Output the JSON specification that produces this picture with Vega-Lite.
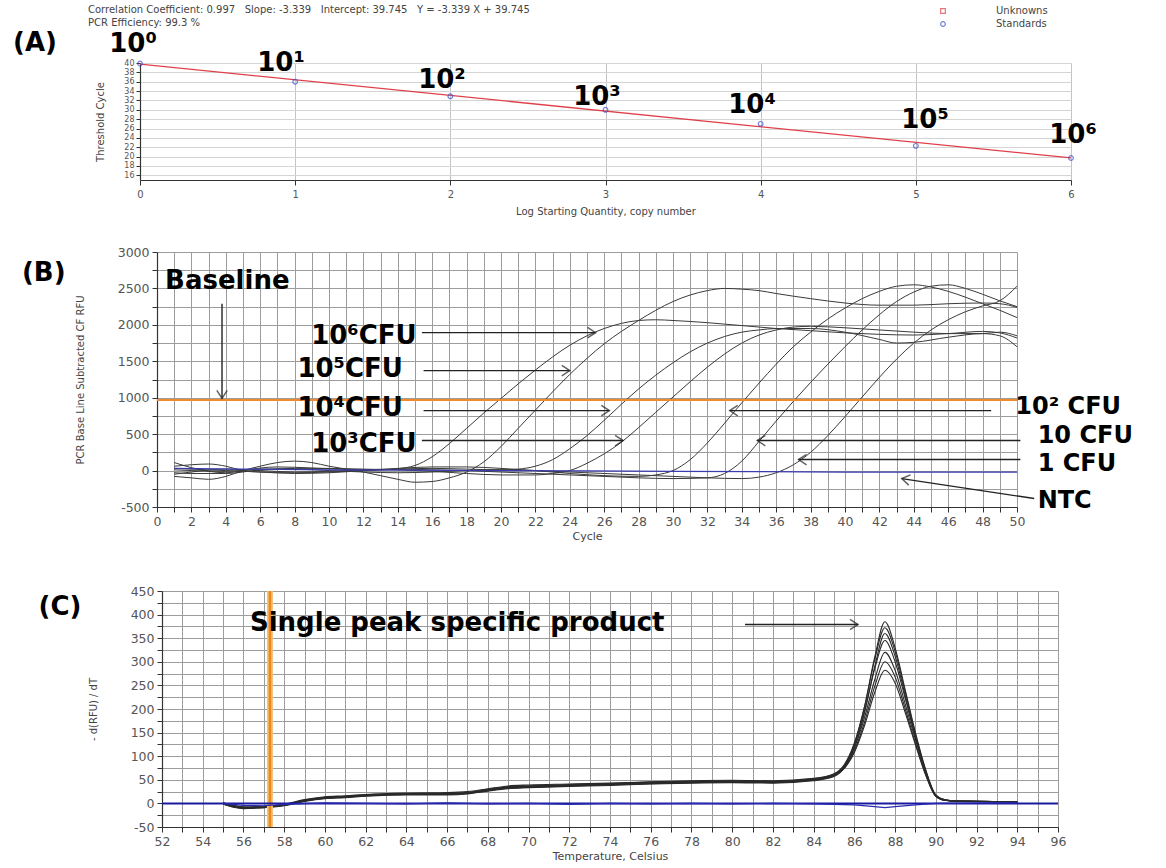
{
"$schema": "https://vega.github.io/schema/vega-lite/v6.json",
"width": 1166, "height": 868,
"autosize": {"type": "none"},
"padding": 0,
"background": "#ffffff",
"config": {
  "view": {"stroke": null},
  "font": "DejaVu Sans",
  "axis": {"labelFont": "DejaVu Sans", "titleFont": "DejaVu Sans", "labelColor": "#555555", "titleColor": "#444444", "titleFontWeight": "normal", "domainColor": "#333333", "tickColor": "#333333", "labelOverlap": false, "labelFlush": false, "labelBound": false, "domainWidth": 1.2}
},
"datasets": {
  "fitA": [{"log": 0, "ct": 39.745}, {"log": 6, "ct": 19.711}],
  "stdA": [{"log": 0, "ct": 39.9, "type": "Standards"}, {"log": 1, "ct": 36.0, "type": "Standards"}, {"log": 2, "ct": 32.9, "type": "Standards"}, {"log": 3, "ct": 30.0, "type": "Standards"}, {"log": 4, "ct": 27.0, "type": "Standards"}, {"log": 5, "ct": 22.3, "type": "Standards"}, {"log": 6, "ct": 19.7, "type": "Standards"}],
  "labelsA": [{"log": -0.677, "ct": 44.27, "t": "(A)"}, {"log": -0.045, "ct": 44.06, "t": "10⁰"}, {"log": 0.909, "ct": 40.0, "t": "10¹"}, {"log": 1.946, "ct": 36.37, "t": "10²"}, {"log": 2.945, "ct": 32.74, "t": "10³"}, {"log": 3.944, "ct": 31.03, "t": "10⁴"}, {"log": 5.059, "ct": 27.82, "t": "10⁵"}, {"log": 6.013, "ct": 24.62, "t": "10⁶"}],
  "headerA": [{"log": -0.335, "ct": 51.32, "t": "Correlation Coefficient: 0.997\u00a0\u00a0 Slope: -3.339\u00a0\u00a0 Intercept: 39.745\u00a0\u00a0 Y = -3.339 X + 39.745"}, {"log": -0.335, "ct": 48.55, "t": "PCR Efficiency: 99.3 %"}],
  "curvesB": [
    {"s":"1e6","c":1,"v":110},{"s":"1e6","c":2,"v":40},{"s":"1e6","c":3,"v":-10},{"s":"1e6","c":4,"v":-30},{"s":"1e6","c":5,"v":0},{"s":"1e6","c":6,"v":35},{"s":"1e6","c":7,"v":50},{"s":"1e6","c":8,"v":45},{"s":"1e6","c":10,"v":25},{"s":"1e6","c":12,"v":10},{"s":"1e6","c":13,"v":10},{"s":"1e6","c":14,"v":25},{"s":"1e6","c":15,"v":70},{"s":"1e6","c":16,"v":190},{"s":"1e6","c":17,"v":370},{"s":"1e6","c":18,"v":580},{"s":"1e6","c":19,"v":790},{"s":"1e6","c":20,"v":990},{"s":"1e6","c":21,"v":1190},{"s":"1e6","c":22,"v":1380},{"s":"1e6","c":23,"v":1560},{"s":"1e6","c":24,"v":1720},{"s":"1e6","c":25,"v":1850},{"s":"1e6","c":26,"v":1950},{"s":"1e6","c":27,"v":2020},{"s":"1e6","c":28,"v":2060},{"s":"1e6","c":29,"v":2070},{"s":"1e6","c":30,"v":2060},{"s":"1e6","c":32,"v":2030},{"s":"1e6","c":34,"v":1990},{"s":"1e6","c":36,"v":1950},{"s":"1e6","c":38,"v":1920},{"s":"1e6","c":40,"v":1890},{"s":"1e6","c":42,"v":1870},{"s":"1e6","c":44,"v":1860},{"s":"1e6","c":46,"v":1880},{"s":"1e6","c":48,"v":1910},{"s":"1e6","c":49,"v":1890},{"s":"1e6","c":50,"v":1820},
    {"s":"1e5","c":1,"v":-80},{"s":"1e5","c":2,"v":-100},{"s":"1e5","c":3,"v":-120},{"s":"1e5","c":4,"v":-80},{"s":"1e5","c":5,"v":0},{"s":"1e5","c":6,"v":60},{"s":"1e5","c":7,"v":110},{"s":"1e5","c":8,"v":130},{"s":"1e5","c":9,"v":110},{"s":"1e5","c":10,"v":60},{"s":"1e5","c":11,"v":20},{"s":"1e5","c":12,"v":-20},{"s":"1e5","c":13,"v":-70},{"s":"1e5","c":14,"v":-120},{"s":"1e5","c":15,"v":-160},{"s":"1e5","c":16,"v":-150},{"s":"1e5","c":17,"v":-100},{"s":"1e5","c":18,"v":-20},{"s":"1e5","c":19,"v":120},{"s":"1e5","c":20,"v":330},{"s":"1e5","c":21,"v":580},{"s":"1e5","c":22,"v":830},{"s":"1e5","c":23,"v":1080},{"s":"1e5","c":24,"v":1320},{"s":"1e5","c":25,"v":1540},{"s":"1e5","c":26,"v":1740},{"s":"1e5","c":27,"v":1910},{"s":"1e5","c":28,"v":2060},{"s":"1e5","c":29,"v":2200},{"s":"1e5","c":30,"v":2320},{"s":"1e5","c":31,"v":2410},{"s":"1e5","c":32,"v":2470},{"s":"1e5","c":33,"v":2500},{"s":"1e5","c":34,"v":2490},{"s":"1e5","c":35,"v":2470},{"s":"1e5","c":36,"v":2430},{"s":"1e5","c":38,"v":2360},{"s":"1e5","c":40,"v":2300},{"s":"1e5","c":42,"v":2270},{"s":"1e5","c":44,"v":2270},{"s":"1e5","c":46,"v":2290},{"s":"1e5","c":48,"v":2300},{"s":"1e5","c":49,"v":2290},{"s":"1e5","c":50,"v":2240},
    {"s":"1e4","c":1,"v":60},{"s":"1e4","c":2,"v":80},{"s":"1e4","c":3,"v":90},{"s":"1e4","c":4,"v":60},{"s":"1e4","c":5,"v":0},{"s":"1e4","c":6,"v":-20},{"s":"1e4","c":8,"v":-30},{"s":"1e4","c":10,"v":-20},{"s":"1e4","c":12,"v":0},{"s":"1e4","c":14,"v":20},{"s":"1e4","c":16,"v":30},{"s":"1e4","c":18,"v":20},{"s":"1e4","c":20,"v":10},{"s":"1e4","c":21,"v":20},{"s":"1e4","c":22,"v":60},{"s":"1e4","c":23,"v":150},{"s":"1e4","c":24,"v":300},{"s":"1e4","c":25,"v":480},{"s":"1e4","c":26,"v":690},{"s":"1e4","c":27,"v":910},{"s":"1e4","c":28,"v":1120},{"s":"1e4","c":29,"v":1310},{"s":"1e4","c":30,"v":1480},{"s":"1e4","c":31,"v":1630},{"s":"1e4","c":32,"v":1750},{"s":"1e4","c":33,"v":1840},{"s":"1e4","c":34,"v":1900},{"s":"1e4","c":35,"v":1930},{"s":"1e4","c":36,"v":1950},{"s":"1e4","c":38,"v":1950},{"s":"1e4","c":40,"v":1900},{"s":"1e4","c":42,"v":1800},{"s":"1e4","c":43,"v":1750},{"s":"1e4","c":44,"v":1760},{"s":"1e4","c":46,"v":1830},{"s":"1e4","c":48,"v":1880},{"s":"1e4","c":49,"v":1850},{"s":"1e4","c":50,"v":1700},
    {"s":"1e3","c":1,"v":-30},{"s":"1e3","c":2,"v":-40},{"s":"1e3","c":4,"v":-40},{"s":"1e3","c":6,"v":10},{"s":"1e3","c":8,"v":30},{"s":"1e3","c":10,"v":30},{"s":"1e3","c":12,"v":20},{"s":"1e3","c":14,"v":10},{"s":"1e3","c":16,"v":-10},{"s":"1e3","c":18,"v":-40},{"s":"1e3","c":20,"v":-60},{"s":"1e3","c":22,"v":-60},{"s":"1e3","c":23,"v":-40},{"s":"1e3","c":24,"v":0},{"s":"1e3","c":25,"v":100},{"s":"1e3","c":26,"v":230},{"s":"1e3","c":27,"v":390},{"s":"1e3","c":28,"v":590},{"s":"1e3","c":29,"v":800},{"s":"1e3","c":30,"v":1010},{"s":"1e3","c":31,"v":1220},{"s":"1e3","c":32,"v":1420},{"s":"1e3","c":33,"v":1600},{"s":"1e3","c":34,"v":1750},{"s":"1e3","c":35,"v":1860},{"s":"1e3","c":36,"v":1930},{"s":"1e3","c":37,"v":1970},{"s":"1e3","c":38,"v":1980},{"s":"1e3","c":40,"v":1960},{"s":"1e3","c":42,"v":1930},{"s":"1e3","c":44,"v":1900},{"s":"1e3","c":46,"v":1880},{"s":"1e3","c":48,"v":1880},{"s":"1e3","c":49,"v":1900},{"s":"1e3","c":50,"v":1850},
    {"s":"1e2","c":1,"v":30},{"s":"1e2","c":2,"v":20},{"s":"1e2","c":4,"v":0},{"s":"1e2","c":6,"v":-20},{"s":"1e2","c":8,"v":-40},{"s":"1e2","c":10,"v":-30},{"s":"1e2","c":12,"v":0},{"s":"1e2","c":14,"v":30},{"s":"1e2","c":16,"v":50},{"s":"1e2","c":18,"v":50},{"s":"1e2","c":20,"v":30},{"s":"1e2","c":22,"v":0},{"s":"1e2","c":24,"v":-40},{"s":"1e2","c":26,"v":-70},{"s":"1e2","c":28,"v":-80},{"s":"1e2","c":29,"v":-60},{"s":"1e2","c":30,"v":0},{"s":"1e2","c":31,"v":150},{"s":"1e2","c":32,"v":380},{"s":"1e2","c":33,"v":650},{"s":"1e2","c":34,"v":930},{"s":"1e2","c":35,"v":1200},{"s":"1e2","c":36,"v":1460},{"s":"1e2","c":37,"v":1700},{"s":"1e2","c":38,"v":1900},{"s":"1e2","c":39,"v":2080},{"s":"1e2","c":40,"v":2230},{"s":"1e2","c":41,"v":2360},{"s":"1e2","c":42,"v":2460},{"s":"1e2","c":43,"v":2530},{"s":"1e2","c":44,"v":2550},{"s":"1e2","c":45,"v":2520},{"s":"1e2","c":46,"v":2460},{"s":"1e2","c":47,"v":2380},{"s":"1e2","c":48,"v":2290},{"s":"1e2","c":49,"v":2200},{"s":"1e2","c":50,"v":2100},
    {"s":"1e1","c":1,"v":-50},{"s":"1e1","c":2,"v":-20},{"s":"1e1","c":4,"v":20},{"s":"1e1","c":6,"v":0},{"s":"1e1","c":8,"v":-20},{"s":"1e1","c":10,"v":-10},{"s":"1e1","c":12,"v":10},{"s":"1e1","c":14,"v":20},{"s":"1e1","c":16,"v":10},{"s":"1e1","c":18,"v":0},{"s":"1e1","c":20,"v":-20},{"s":"1e1","c":22,"v":-40},{"s":"1e1","c":24,"v":-60},{"s":"1e1","c":26,"v":-80},{"s":"1e1","c":28,"v":-100},{"s":"1e1","c":30,"v":-110},{"s":"1e1","c":32,"v":-100},{"s":"1e1","c":33,"v":-40},{"s":"1e1","c":34,"v":130},{"s":"1e1","c":35,"v":400},{"s":"1e1","c":36,"v":680},{"s":"1e1","c":37,"v":950},{"s":"1e1","c":38,"v":1210},{"s":"1e1","c":39,"v":1460},{"s":"1e1","c":40,"v":1700},{"s":"1e1","c":41,"v":1930},{"s":"1e1","c":42,"v":2140},{"s":"1e1","c":43,"v":2320},{"s":"1e1","c":44,"v":2450},{"s":"1e1","c":45,"v":2530},{"s":"1e1","c":46,"v":2550},{"s":"1e1","c":47,"v":2500},{"s":"1e1","c":48,"v":2420},{"s":"1e1","c":49,"v":2330},{"s":"1e1","c":50,"v":2250},
    {"s":"1e0","c":1,"v":10},{"s":"1e0","c":2,"v":0},{"s":"1e0","c":4,"v":-10},{"s":"1e0","c":6,"v":20},{"s":"1e0","c":8,"v":20},{"s":"1e0","c":10,"v":0},{"s":"1e0","c":12,"v":-20},{"s":"1e0","c":14,"v":-30},{"s":"1e0","c":16,"v":-20},{"s":"1e0","c":18,"v":0},{"s":"1e0","c":20,"v":10},{"s":"1e0","c":22,"v":0},{"s":"1e0","c":24,"v":-20},{"s":"1e0","c":26,"v":-40},{"s":"1e0","c":28,"v":-60},{"s":"1e0","c":30,"v":-80},{"s":"1e0","c":32,"v":-100},{"s":"1e0","c":34,"v":-110},{"s":"1e0","c":35,"v":-90},{"s":"1e0","c":36,"v":-30},{"s":"1e0","c":37,"v":80},{"s":"1e0","c":38,"v":250},{"s":"1e0","c":39,"v":480},{"s":"1e0","c":40,"v":740},{"s":"1e0","c":41,"v":1010},{"s":"1e0","c":42,"v":1280},{"s":"1e0","c":43,"v":1530},{"s":"1e0","c":44,"v":1750},{"s":"1e0","c":45,"v":1930},{"s":"1e0","c":46,"v":2070},{"s":"1e0","c":47,"v":2180},{"s":"1e0","c":48,"v":2260},{"s":"1e0","c":49,"v":2330},{"s":"1e0","c":50,"v":2530}
  ],
  "ntcB": [{"c":1,"v":30},{"c":5,"v":20},{"c":10,"v":10},{"c":15,"v":5},{"c":20,"v":0},{"c":25,"v":-5},{"c":30,"v":-10},{"c":35,"v":-15},{"c":40,"v":-20},{"c":45,"v":-20},{"c":50,"v":-20}],
  "thresholdB": [{"v": 970}],
  "arrowsB": [
    {"c1":3.78,"v1":2290,"c2":3.78,"v2":990,"dir":"down"},
    {"c1":15.4,"v1":1893,"c2":25.5,"v2":1893,"dir":"right"},
    {"c1":15.5,"v1":1372,"c2":24.0,"v2":1372,"dir":"right"},
    {"c1":15.5,"v1":823,"c2":26.3,"v2":823,"dir":"right"},
    {"c1":15.4,"v1":412,"c2":27.1,"v2":412,"dir":"right"},
    {"c1":48.5,"v1":823,"c2":33.3,"v2":823,"dir":"left"},
    {"c1":50.2,"v1":412,"c2":34.9,"v2":412,"dir":"left"},
    {"c1":50.2,"v1":151,"c2":37.3,"v2":151,"dir":"left"},
    {"c1":51.0,"v1":-384,"c2":43.3,"v2":-110,"dir":"diag"}
  ],
  "labelsB": [
    {"c":0.47,"v":2606,"t":"Baseline","side":"left"},
    {"c":-7.85,"v":2716,"t":"(B)","side":"left"},
    {"c":15.1,"v":1852,"t":"10⁶CFU","side":"right"},
    {"c":14.3,"v":1399,"t":"10⁵CFU","side":"right"},
    {"c":14.3,"v":864,"t":"10⁴CFU","side":"right"},
    {"c":15.1,"v":370,"t":"10³CFU","side":"right"},
    {"c":49.9,"v":878,"t":"10² CFU","side":"left2"},
    {"c":51.2,"v":480,"t":"10 CFU","side":"left2"},
    {"c":51.2,"v":96,"t":"1 CFU","side":"left2"},
    {"c":51.2,"v":-412,"t":"NTC","side":"left2"}
  ],
  "meltC": [
    {"w":"w1","t":55,"d":0},{"w":"w1","t":55.5,"d":-6},{"w":"w1","t":56,"d":-9},{"w":"w1","t":57,"d":-8},{"w":"w1","t":58,"d":-4},{"w":"w1","t":59,"d":6},{"w":"w1","t":60,"d":12},{"w":"w1","t":61,"d":14},{"w":"w1","t":62,"d":17},{"w":"w1","t":64,"d":20},{"w":"w1","t":66,"d":20},{"w":"w1","t":67,"d":22},{"w":"w1","t":68,"d":28},{"w":"w1","t":69,"d":34},{"w":"w1","t":70,"d":36},{"w":"w1","t":72,"d":38},{"w":"w1","t":74,"d":40},{"w":"w1","t":76,"d":43},{"w":"w1","t":78,"d":45},{"w":"w1","t":80,"d":46},{"w":"w1","t":82,"d":45},{"w":"w1","t":84,"d":50},{"w":"w1","t":85,"d":60},{"w":"w1","t":85.5,"d":78},{"w":"w1","t":86,"d":125},{"w":"w1","t":86.5,"d":205},{"w":"w1","t":87,"d":310},{"w":"w1","t":87.5,"d":385},{"w":"w1","t":88,"d":330},{"w":"w1","t":88.5,"d":240},{"w":"w1","t":89,"d":150},{"w":"w1","t":89.5,"d":72},{"w":"w1","t":90,"d":18},{"w":"w1","t":90.5,"d":7},{"w":"w1","t":91,"d":5},{"w":"w1","t":92,"d":4},{"w":"w1","t":93,"d":4},{"w":"w1","t":94,"d":3},
    {"w":"w2","t":55,"d":2},{"w":"w2","t":55.5,"d":-4},{"w":"w2","t":56,"d":-7},{"w":"w2","t":57,"d":-6},{"w":"w2","t":58,"d":-2},{"w":"w2","t":59,"d":8},{"w":"w2","t":60,"d":14},{"w":"w2","t":61,"d":16},{"w":"w2","t":62,"d":19},{"w":"w2","t":64,"d":22},{"w":"w2","t":66,"d":23},{"w":"w2","t":67,"d":25},{"w":"w2","t":68,"d":31},{"w":"w2","t":69,"d":37},{"w":"w2","t":70,"d":39},{"w":"w2","t":72,"d":41},{"w":"w2","t":74,"d":43},{"w":"w2","t":76,"d":46},{"w":"w2","t":78,"d":48},{"w":"w2","t":80,"d":49},{"w":"w2","t":82,"d":48},{"w":"w2","t":84,"d":53},{"w":"w2","t":85,"d":63},{"w":"w2","t":85.5,"d":82},{"w":"w2","t":86,"d":128},{"w":"w2","t":86.5,"d":205},{"w":"w2","t":87,"d":305},{"w":"w2","t":87.5,"d":372},{"w":"w2","t":88,"d":322},{"w":"w2","t":88.5,"d":235},{"w":"w2","t":89,"d":146},{"w":"w2","t":89.5,"d":70},{"w":"w2","t":90,"d":17},{"w":"w2","t":90.5,"d":7},{"w":"w2","t":91,"d":5},{"w":"w2","t":92,"d":5},{"w":"w2","t":93,"d":4},{"w":"w2","t":94,"d":4},
    {"w":"w3","t":55,"d":-1},{"w":"w3","t":55.5,"d":-8},{"w":"w3","t":56,"d":-11},{"w":"w3","t":57,"d":-9},{"w":"w3","t":58,"d":-5},{"w":"w3","t":59,"d":4},{"w":"w3","t":60,"d":10},{"w":"w3","t":61,"d":12},{"w":"w3","t":62,"d":15},{"w":"w3","t":64,"d":18},{"w":"w3","t":66,"d":18},{"w":"w3","t":67,"d":20},{"w":"w3","t":68,"d":26},{"w":"w3","t":69,"d":31},{"w":"w3","t":70,"d":33},{"w":"w3","t":72,"d":36},{"w":"w3","t":74,"d":38},{"w":"w3","t":76,"d":41},{"w":"w3","t":78,"d":43},{"w":"w3","t":80,"d":44},{"w":"w3","t":82,"d":43},{"w":"w3","t":84,"d":48},{"w":"w3","t":85,"d":57},{"w":"w3","t":85.5,"d":75},{"w":"w3","t":86,"d":118},{"w":"w3","t":86.5,"d":192},{"w":"w3","t":87,"d":290},{"w":"w3","t":87.5,"d":360},{"w":"w3","t":88,"d":312},{"w":"w3","t":88.5,"d":228},{"w":"w3","t":89,"d":142},{"w":"w3","t":89.5,"d":68},{"w":"w3","t":90,"d":16},{"w":"w3","t":90.5,"d":6},{"w":"w3","t":91,"d":5},{"w":"w3","t":92,"d":4},{"w":"w3","t":93,"d":3},{"w":"w3","t":94,"d":3},
    {"w":"w4","t":55,"d":1},{"w":"w4","t":55.5,"d":-5},{"w":"w4","t":56,"d":-8},{"w":"w4","t":57,"d":-7},{"w":"w4","t":58,"d":-3},{"w":"w4","t":59,"d":7},{"w":"w4","t":60,"d":13},{"w":"w4","t":61,"d":15},{"w":"w4","t":62,"d":18},{"w":"w4","t":64,"d":21},{"w":"w4","t":66,"d":21},{"w":"w4","t":67,"d":23},{"w":"w4","t":68,"d":29},{"w":"w4","t":69,"d":35},{"w":"w4","t":70,"d":37},{"w":"w4","t":72,"d":39},{"w":"w4","t":74,"d":41},{"w":"w4","t":76,"d":44},{"w":"w4","t":78,"d":46},{"w":"w4","t":80,"d":47},{"w":"w4","t":82,"d":46},{"w":"w4","t":84,"d":51},{"w":"w4","t":85,"d":61},{"w":"w4","t":85.5,"d":78},{"w":"w4","t":86,"d":118},{"w":"w4","t":86.5,"d":182},{"w":"w4","t":87,"d":262},{"w":"w4","t":87.5,"d":320},{"w":"w4","t":88,"d":282},{"w":"w4","t":88.5,"d":210},{"w":"w4","t":89,"d":135},{"w":"w4","t":89.5,"d":66},{"w":"w4","t":90,"d":16},{"w":"w4","t":90.5,"d":7},{"w":"w4","t":91,"d":5},{"w":"w4","t":92,"d":4},{"w":"w4","t":93,"d":4},{"w":"w4","t":94,"d":3},
    {"w":"w5","t":55,"d":-1},{"w":"w5","t":55.5,"d":-7},{"w":"w5","t":56,"d":-10},{"w":"w5","t":57,"d":-9},{"w":"w5","t":58,"d":-4},{"w":"w5","t":59,"d":5},{"w":"w5","t":60,"d":11},{"w":"w5","t":61,"d":13},{"w":"w5","t":62,"d":16},{"w":"w5","t":64,"d":19},{"w":"w5","t":66,"d":19},{"w":"w5","t":67,"d":21},{"w":"w5","t":68,"d":27},{"w":"w5","t":69,"d":32},{"w":"w5","t":70,"d":34},{"w":"w5","t":72,"d":37},{"w":"w5","t":74,"d":39},{"w":"w5","t":76,"d":42},{"w":"w5","t":78,"d":44},{"w":"w5","t":80,"d":45},{"w":"w5","t":82,"d":44},{"w":"w5","t":84,"d":49},{"w":"w5","t":85,"d":58},{"w":"w5","t":85.5,"d":74},{"w":"w5","t":86,"d":112},{"w":"w5","t":86.5,"d":172},{"w":"w5","t":87,"d":248},{"w":"w5","t":87.5,"d":300},{"w":"w5","t":88,"d":268},{"w":"w5","t":88.5,"d":200},{"w":"w5","t":89,"d":128},{"w":"w5","t":89.5,"d":62},{"w":"w5","t":90,"d":15},{"w":"w5","t":90.5,"d":6},{"w":"w5","t":91,"d":5},{"w":"w5","t":92,"d":4},{"w":"w5","t":93,"d":3},{"w":"w5","t":94,"d":3},
    {"w":"w6","t":55,"d":0},{"w":"w6","t":55.5,"d":-6},{"w":"w6","t":56,"d":-9},{"w":"w6","t":57,"d":-8},{"w":"w6","t":58,"d":-3},{"w":"w6","t":59,"d":6},{"w":"w6","t":60,"d":12},{"w":"w6","t":61,"d":14},{"w":"w6","t":62,"d":17},{"w":"w6","t":64,"d":20},{"w":"w6","t":66,"d":20},{"w":"w6","t":67,"d":22},{"w":"w6","t":68,"d":28},{"w":"w6","t":69,"d":33},{"w":"w6","t":70,"d":35},{"w":"w6","t":72,"d":38},{"w":"w6","t":74,"d":40},{"w":"w6","t":76,"d":43},{"w":"w6","t":78,"d":45},{"w":"w6","t":80,"d":46},{"w":"w6","t":82,"d":45},{"w":"w6","t":84,"d":50},{"w":"w6","t":85,"d":59},{"w":"w6","t":85.5,"d":74},{"w":"w6","t":86,"d":108},{"w":"w6","t":86.5,"d":165},{"w":"w6","t":87,"d":235},{"w":"w6","t":87.5,"d":282},{"w":"w6","t":88,"d":255},{"w":"w6","t":88.5,"d":192},{"w":"w6","t":89,"d":124},{"w":"w6","t":89.5,"d":60},{"w":"w6","t":90,"d":15},{"w":"w6","t":90.5,"d":6},{"w":"w6","t":91,"d":5},{"w":"w6","t":92,"d":4},{"w":"w6","t":93,"d":4},{"w":"w6","t":94,"d":3},
    {"w":"w7","t":55,"d":1},{"w":"w7","t":55.5,"d":-5},{"w":"w7","t":56,"d":-9},{"w":"w7","t":57,"d":-8},{"w":"w7","t":58,"d":-4},{"w":"w7","t":59,"d":5},{"w":"w7","t":60,"d":11},{"w":"w7","t":61,"d":14},{"w":"w7","t":62,"d":17},{"w":"w7","t":64,"d":19},{"w":"w7","t":66,"d":21},{"w":"w7","t":67,"d":23},{"w":"w7","t":68,"d":30},{"w":"w7","t":69,"d":35},{"w":"w7","t":70,"d":37},{"w":"w7","t":72,"d":40},{"w":"w7","t":74,"d":42},{"w":"w7","t":76,"d":45},{"w":"w7","t":78,"d":47},{"w":"w7","t":80,"d":48},{"w":"w7","t":82,"d":47},{"w":"w7","t":84,"d":52},{"w":"w7","t":85,"d":62},{"w":"w7","t":85.5,"d":80},{"w":"w7","t":86,"d":124},{"w":"w7","t":86.5,"d":196},{"w":"w7","t":87,"d":285},{"w":"w7","t":87.5,"d":345},{"w":"w7","t":88,"d":300},{"w":"w7","t":88.5,"d":222},{"w":"w7","t":89,"d":140},{"w":"w7","t":89.5,"d":68},{"w":"w7","t":90,"d":17},{"w":"w7","t":90.5,"d":7},{"w":"w7","t":91,"d":5},{"w":"w7","t":92,"d":5},{"w":"w7","t":93,"d":4},{"w":"w7","t":94,"d":4}
  ],
  "ntcC": [{"t":55,"d":0},{"t":56,"d":-4},{"t":57,"d":-5},{"t":58,"d":-2},{"t":60,"d":1},{"t":62,"d":0},{"t":64,"d":-1},{"t":66,"d":1},{"t":68,"d":-1},{"t":70,"d":0},{"t":72,"d":-2},{"t":74,"d":0},{"t":76,"d":-1},{"t":78,"d":0},{"t":80,"d":-1},{"t":82,"d":0},{"t":84,"d":-1},{"t":86,"d":-3},{"t":87,"d":-7},{"t":87.5,"d":-9},{"t":88,"d":-7},{"t":89,"d":-3},{"t":90,"d":0},{"t":92,"d":1},{"t":94,"d":1}],
  "zeroC": [{"d": 0}],
  "markerC": [{"t": 57.3}],
  "labelsC": [{"t": 46.99, "d": 417, "txt": "(C)", "side": "center"}, {"t": 56.32, "d": 383, "txt": "Single peak specific product", "side": "left"}],
  "arrowC": [{"t1": 80.63, "d1": 379, "t2": 86.18, "d2": 379}]
},
"layer": [
  {"layer": [
    {"data": {"name": "fitA"}, "mark": {"type": "line", "color": "#e0404a", "strokeWidth": 1.3},
     "encoding": {
       "x": {"field": "log", "type": "quantitative", "scale": {"domain": [0, 6], "range": [140, 1071], "zero": false, "nice": false},
             "axis": {"orient": "bottom", "offset": -688, "values": [0,1,2,3,4,5,6], "grid": false, "tickSize": 5, "labelFontSize": 10, "labelPadding": 4, "labelOverlap": false, "title": "Log Starting Quantity, copy number", "titleFontSize": 10, "titlePadding": 7}},
       "y": {"field": "ct", "type": "quantitative", "scale": {"domain": [15, 40], "range": [180, 63], "zero": false, "nice": false},
             "axis": {"orient": "left", "offset": -140, "values": [16,17,18,19,20,21,22,23,24,25,26,27,28,29,30,31,32,33,34,35,36,37,38,39,40], "labelExpr": "datum.value % 2 === 0 ? '' + datum.value : ''", "labelOverlap": false, "grid": true, "gridColor": "#d4d4d4", "tickSize": 4, "labelFontSize": 8, "labelPadding": 2, "title": "Threshold Cycle", "titleFontSize": 10, "titlePadding": 18}}
     }},
    {"data": {"name": "stdA"}, "mark": {"type": "point", "filled": false, "size": 22, "strokeWidth": 1.2},
     "encoding": {
       "x": {"field": "log", "type": "quantitative", "scale": {"domain": [0, 6], "range": [140, 1071], "zero": false, "nice": false},
             "axis": {"orient": "top", "values": [0,1,2,3,4,5,6], "grid": true, "gridColor": "#c4c4c4", "labels": false, "ticks": false, "domain": false, "title": null}},
       "y": {"field": "ct", "type": "quantitative", "scale": {"domain": [15, 40], "range": [180, 63], "zero": false, "nice": false}},
       "color": {"field": "type", "type": "nominal", "scale": {"domain": ["Unknowns", "Standards"], "range": ["#e03a3a", "#3a4fd0"]},
                 "legend": {"orient": "none", "legendX": 938, "legendY": 6, "title": null, "labelFontSize": 10, "labelColor": "#444444", "labelOffset": 48, "symbolSize": 22, "rowPadding": 3, "padding": 0, "symbolStrokeWidth": 1.2}},
       "shape": {"field": "type", "type": "nominal", "scale": {"domain": ["Unknowns", "Standards"], "range": ["square", "circle"]},
                 "legend": {"orient": "none", "legendX": 938, "legendY": 6, "title": null, "labelFontSize": 10, "labelColor": "#444444", "labelOffset": 48, "symbolSize": 22, "rowPadding": 3, "padding": 0, "symbolStrokeWidth": 1.2}}
     }},
    {"data": {"name": "labelsA"}, "mark": {"type": "text", "fontWeight": "bold", "fontSize": 26, "align": "center", "baseline": "middle", "color": "#000000"},
     "encoding": {
       "x": {"field": "log", "type": "quantitative", "scale": {"domain": [0, 6], "range": [140, 1071], "zero": false, "nice": false}, "axis": null},
       "y": {"field": "ct", "type": "quantitative", "scale": {"domain": [15, 40], "range": [180, 63], "zero": false, "nice": false}},
       "text": {"field": "t"}
     }},
    {"data": {"name": "headerA"}, "mark": {"type": "text", "fontSize": 10, "align": "left", "baseline": "middle", "color": "#444444"},
     "encoding": {
       "x": {"field": "log", "type": "quantitative", "scale": {"domain": [0, 6], "range": [140, 1071], "zero": false, "nice": false}, "axis": null},
       "y": {"field": "ct", "type": "quantitative", "scale": {"domain": [15, 40], "range": [180, 63], "zero": false, "nice": false}},
       "text": {"field": "t"}
     }}
  ]},
  {"layer": [
    {"data": {"name": "curvesB"}, "mark": {"type": "line", "interpolate": "monotone", "color": "#3a3a3a", "strokeWidth": 1},
     "encoding": {
       "x": {"field": "c", "type": "quantitative", "scale": {"domain": [0, 50], "range": [157, 1017], "zero": false, "nice": false},
             "axis": {"orient": "bottom", "offset": -361, "values": [0,1,2,3,4,5,6,7,8,9,10,11,12,13,14,15,16,17,18,19,20,21,22,23,24,25,26,27,28,29,30,31,32,33,34,35,36,37,38,39,40,41,42,43,44,45,46,47,48,49,50], "labelExpr": "datum.value % 2 === 0 ? '' + datum.value : ''", "labelOverlap": false, "grid": false, "tickSize": 5, "labelFontSize": 12.5, "labelPadding": 3, "title": "Cycle", "titleFontSize": 11, "titlePadding": 3}},
       "y": {"field": "v", "type": "quantitative", "scale": {"domain": [-500, 3000], "range": [507, 252], "zero": false, "nice": false},
             "axis": {"orient": "left", "offset": -157, "values": [-500,-250,0,250,500,750,1000,1250,1500,1750,2000,2250,2500,2750,3000], "labelExpr": "datum.value % 500 === 0 ? '' + datum.value : ''", "labelOverlap": false, "grid": true, "gridColor": "#9c9c9c", "tickSize": 5, "labelFontSize": 12.5, "labelPadding": 3, "title": "PCR Base Line Subtracted CF RFU", "titleFontSize": 10, "titlePadding": 32}},
       "detail": {"field": "s"}
     }},
    {"data": {"name": "ntcB"}, "mark": {"type": "line", "color": "#3b3bb0", "strokeWidth": 1.2},
     "encoding": {
       "x": {"field": "c", "type": "quantitative", "scale": {"domain": [0, 50], "range": [157, 1017], "zero": false, "nice": false},
             "axis": {"orient": "top", "values": [0,1,2,3,4,5,6,7,8,9,10,11,12,13,14,15,16,17,18,19,20,21,22,23,24,25,26,27,28,29,30,31,32,33,34,35,36,37,38,39,40,41,42,43,44,45,46,47,48,49,50], "grid": true, "gridColor": "#9c9c9c", "labels": false, "ticks": false, "domain": false, "title": null}},
       "y": {"field": "v", "type": "quantitative", "scale": {"domain": [-500, 3000], "range": [507, 252], "zero": false, "nice": false}}
     }},
    {"data": {"name": "thresholdB"}, "mark": {"type": "rule", "color": "#f08a2c", "strokeWidth": 2},
     "encoding": {
       "x": {"datum": 0, "type": "quantitative", "scale": {"domain": [0, 50], "range": [157, 1017], "zero": false, "nice": false}, "axis": null},
       "x2": {"datum": 50},
       "y": {"field": "v", "type": "quantitative", "scale": {"domain": [-500, 3000], "range": [507, 252], "zero": false, "nice": false}}
     }},
    {"data": {"name": "arrowsB"}, "mark": {"type": "rule", "color": "#222222", "strokeWidth": 1.4},
     "encoding": {
       "x": {"field": "c1", "type": "quantitative", "scale": {"domain": [0, 50], "range": [157, 1017], "zero": false, "nice": false}, "axis": null},
       "x2": {"field": "c2"},
       "y": {"field": "v1", "type": "quantitative", "scale": {"domain": [-500, 3000], "range": [507, 252], "zero": false, "nice": false}},
       "y2": {"field": "v2"}
     }},
    {"data": {"name": "arrowsB"}, "transform": [{"filter": "datum.dir === 'right'"}],
     "mark": {"type": "point", "shape": "M-1,-0.65L0,0L-1,0.65", "filled": false, "size": 256, "strokeWidth": 1.5, "color": "#222222", "angle": 0},
     "encoding": {
       "x": {"field": "c2", "type": "quantitative", "scale": {"domain": [0, 50], "range": [157, 1017], "zero": false, "nice": false}, "axis": null},
       "y": {"field": "v2", "type": "quantitative", "scale": {"domain": [-500, 3000], "range": [507, 252], "zero": false, "nice": false}}
     }},
    {"data": {"name": "arrowsB"}, "transform": [{"filter": "datum.dir === 'left'"}],
     "mark": {"type": "point", "shape": "M-1,-0.65L0,0L-1,0.65", "filled": false, "size": 256, "strokeWidth": 1.5, "color": "#222222", "angle": 180},
     "encoding": {
       "x": {"field": "c2", "type": "quantitative", "scale": {"domain": [0, 50], "range": [157, 1017], "zero": false, "nice": false}, "axis": null},
       "y": {"field": "v2", "type": "quantitative", "scale": {"domain": [-500, 3000], "range": [507, 252], "zero": false, "nice": false}}
     }},
    {"data": {"name": "arrowsB"}, "transform": [{"filter": "datum.dir === 'down'"}],
     "mark": {"type": "point", "shape": "M-1,-0.65L0,0L-1,0.65", "filled": false, "size": 256, "strokeWidth": 1.5, "color": "#222222", "angle": 90},
     "encoding": {
       "x": {"field": "c2", "type": "quantitative", "scale": {"domain": [0, 50], "range": [157, 1017], "zero": false, "nice": false}, "axis": null},
       "y": {"field": "v2", "type": "quantitative", "scale": {"domain": [-500, 3000], "range": [507, 252], "zero": false, "nice": false}}
     }},
    {"data": {"name": "arrowsB"}, "transform": [{"filter": "datum.dir === 'diag'"}],
     "mark": {"type": "point", "shape": "M-1,-0.65L0,0L-1,0.65", "filled": false, "size": 256, "strokeWidth": 1.5, "color": "#222222", "angle": 190},
     "encoding": {
       "x": {"field": "c2", "type": "quantitative", "scale": {"domain": [0, 50], "range": [157, 1017], "zero": false, "nice": false}, "axis": null},
       "y": {"field": "v2", "type": "quantitative", "scale": {"domain": [-500, 3000], "range": [507, 252], "zero": false, "nice": false}}
     }},
    {"data": {"name": "labelsB"}, "transform": [{"filter": "datum.side === 'left'"}],
     "mark": {"type": "text", "fontWeight": "bold", "fontSize": 26, "align": "left", "baseline": "middle", "color": "#000000"},
     "encoding": {
       "x": {"field": "c", "type": "quantitative", "scale": {"domain": [0, 50], "range": [157, 1017], "zero": false, "nice": false}, "axis": null},
       "y": {"field": "v", "type": "quantitative", "scale": {"domain": [-500, 3000], "range": [507, 252], "zero": false, "nice": false}},
       "text": {"field": "t"}
     }},
    {"data": {"name": "labelsB"}, "transform": [{"filter": "datum.side === 'left2'"}],
     "mark": {"type": "text", "fontWeight": "bold", "fontSize": 24, "align": "left", "baseline": "middle", "color": "#000000"},
     "encoding": {
       "x": {"field": "c", "type": "quantitative", "scale": {"domain": [0, 50], "range": [157, 1017], "zero": false, "nice": false}, "axis": null},
       "y": {"field": "v", "type": "quantitative", "scale": {"domain": [-500, 3000], "range": [507, 252], "zero": false, "nice": false}},
       "text": {"field": "t"}
     }},
    {"data": {"name": "labelsB"}, "transform": [{"filter": "datum.side === 'right'"}],
     "mark": {"type": "text", "fontWeight": "bold", "fontSize": 26, "align": "right", "baseline": "middle", "color": "#000000"},
     "encoding": {
       "x": {"field": "c", "type": "quantitative", "scale": {"domain": [0, 50], "range": [157, 1017], "zero": false, "nice": false}, "axis": null},
       "y": {"field": "v", "type": "quantitative", "scale": {"domain": [-500, 3000], "range": [507, 252], "zero": false, "nice": false}},
       "text": {"field": "t"}
     }}
  ]},
  {"layer": [
    {"data": {"name": "meltC"}, "mark": {"type": "line", "interpolate": "monotone", "color": "#2a2a2a", "strokeWidth": 1.1},
     "encoding": {
       "x": {"field": "t", "type": "quantitative", "scale": {"domain": [52, 96], "range": [162, 1058], "zero": false, "nice": false},
             "axis": {"orient": "bottom", "offset": -41, "values": [52,53,54,55,56,57,58,59,60,61,62,63,64,65,66,67,68,69,70,71,72,73,74,75,76,77,78,79,80,81,82,83,84,85,86,87,88,89,90,91,92,93,94,95,96], "labelExpr": "datum.value % 2 === 0 ? '' + datum.value : ''", "labelOverlap": false, "grid": false, "tickSize": 5, "labelFontSize": 12.5, "labelPadding": 3, "title": "Temperature, Celsius", "titleFontSize": 11, "titlePadding": 3}},
       "y": {"field": "d", "type": "quantitative", "scale": {"domain": [-50, 450], "range": [827, 591], "zero": false, "nice": false},
             "axis": {"orient": "left", "offset": -162, "values": [-50,-25,0,25,50,75,100,125,150,175,200,225,250,275,300,325,350,375,400,425,450], "labelExpr": "datum.value % 50 === 0 ? '' + datum.value : ''", "labelOverlap": false, "grid": true, "gridColor": "#9c9c9c", "tickSize": 5, "labelFontSize": 12.5, "labelPadding": 3, "title": "- d(RFU) / dT", "titleFontSize": 10, "titlePadding": 32}},
       "detail": {"field": "w"}
     }},
    {"data": {"name": "markerC"}, "mark": {"type": "rule", "color": "#f7c07a", "strokeWidth": 6},
     "encoding": {
       "x": {"field": "t", "type": "quantitative", "scale": {"domain": [52, 96], "range": [162, 1058], "zero": false, "nice": false}, "axis": null},
       "y": {"datum": -50, "type": "quantitative", "scale": {"domain": [-50, 450], "range": [827, 591], "zero": false, "nice": false}},
       "y2": {"datum": 450}
     }},
    {"data": {"name": "markerC"}, "mark": {"type": "rule", "color": "#ea8a1c", "strokeWidth": 2.5},
     "encoding": {
       "x": {"field": "t", "type": "quantitative", "scale": {"domain": [52, 96], "range": [162, 1058], "zero": false, "nice": false}, "axis": null},
       "y": {"datum": -50, "type": "quantitative", "scale": {"domain": [-50, 450], "range": [827, 591], "zero": false, "nice": false}},
       "y2": {"datum": 450}
     }},
    {"data": {"name": "zeroC"}, "mark": {"type": "rule", "color": "#1a1aa0", "strokeWidth": 2},
     "encoding": {
       "x": {"datum": 52, "type": "quantitative", "scale": {"domain": [52, 96], "range": [162, 1058], "zero": false, "nice": false}, "axis": null},
       "x2": {"datum": 96},
       "y": {"field": "d", "type": "quantitative", "scale": {"domain": [-50, 450], "range": [827, 591], "zero": false, "nice": false}}
     }},
    {"data": {"name": "ntcC"}, "mark": {"type": "line", "color": "#2a2ab0", "strokeWidth": 1.2},
     "encoding": {
       "x": {"field": "t", "type": "quantitative", "scale": {"domain": [52, 96], "range": [162, 1058], "zero": false, "nice": false},
             "axis": {"orient": "top", "values": [52,53,54,55,56,57,58,59,60,61,62,63,64,65,66,67,68,69,70,71,72,73,74,75,76,77,78,79,80,81,82,83,84,85,86,87,88,89,90,91,92,93,94,95,96], "grid": true, "gridColor": "#9c9c9c", "labels": false, "ticks": false, "domain": false, "title": null}},
       "y": {"field": "d", "type": "quantitative", "scale": {"domain": [-50, 450], "range": [827, 591], "zero": false, "nice": false}}
     }},
    {"data": {"name": "arrowC"}, "mark": {"type": "rule", "color": "#222222", "strokeWidth": 1.4},
     "encoding": {
       "x": {"field": "t1", "type": "quantitative", "scale": {"domain": [52, 96], "range": [162, 1058], "zero": false, "nice": false}, "axis": null},
       "x2": {"field": "t2"},
       "y": {"field": "d1", "type": "quantitative", "scale": {"domain": [-50, 450], "range": [827, 591], "zero": false, "nice": false}},
       "y2": {"field": "d2"}
     }},
    {"data": {"name": "arrowC"}, "mark": {"type": "point", "shape": "M-1,-0.65L0,0L-1,0.65", "filled": false, "size": 256, "strokeWidth": 1.5, "color": "#222222", "angle": 0},
     "encoding": {
       "x": {"field": "t2", "type": "quantitative", "scale": {"domain": [52, 96], "range": [162, 1058], "zero": false, "nice": false}, "axis": null},
       "y": {"field": "d2", "type": "quantitative", "scale": {"domain": [-50, 450], "range": [827, 591], "zero": false, "nice": false}}
     }},
    {"data": {"name": "labelsC"}, "transform": [{"filter": "datum.side === 'left'"}],
     "mark": {"type": "text", "fontWeight": "bold", "fontSize": 26, "align": "left", "baseline": "middle", "color": "#000000"},
     "encoding": {
       "x": {"field": "t", "type": "quantitative", "scale": {"domain": [52, 96], "range": [162, 1058], "zero": false, "nice": false}, "axis": null},
       "y": {"field": "d", "type": "quantitative", "scale": {"domain": [-50, 450], "range": [827, 591], "zero": false, "nice": false}},
       "text": {"field": "txt"}
     }},
    {"data": {"name": "labelsC"}, "transform": [{"filter": "datum.side === 'center'"}],
     "mark": {"type": "text", "fontWeight": "bold", "fontSize": 26, "align": "center", "baseline": "middle", "color": "#000000"},
     "encoding": {
       "x": {"field": "t", "type": "quantitative", "scale": {"domain": [52, 96], "range": [162, 1058], "zero": false, "nice": false}, "axis": null},
       "y": {"field": "d", "type": "quantitative", "scale": {"domain": [-50, 450], "range": [827, 591], "zero": false, "nice": false}},
       "text": {"field": "txt"}
     }}
  ]}
],
"resolve": {"scale": {"x": "independent", "y": "independent"}}
}
